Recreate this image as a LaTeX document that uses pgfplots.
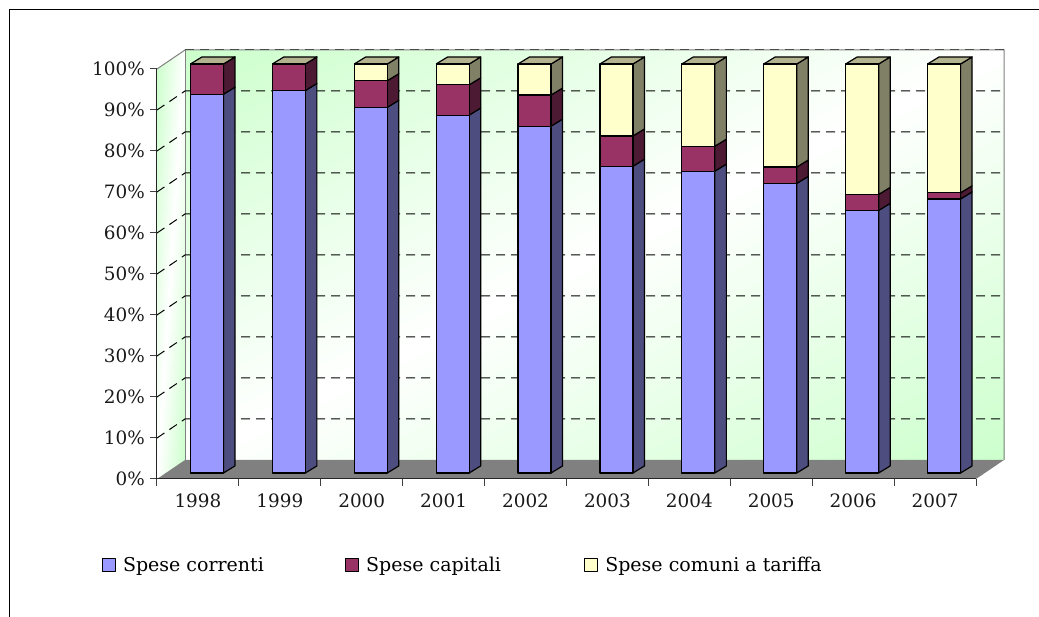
\documentclass[border=0pt]{standalone}
\usepackage{fontspec}
\setmainfont{DejaVu Serif}
\usepackage{pgfplots}
\usepackage{pgfplotstable}
\pgfplotsset{compat=1.18}

\definecolor{wallgreen}{HTML}{CCFFCC}
\definecolor{floorgray}{HTML}{808080}
\definecolor{corr}{HTML}{9999FF}
\definecolor{capi}{HTML}{993366}
\definecolor{tari}{HTML}{FFFFCC}
\definecolor{corrside}{HTML}{4D4D80}
\definecolor{capiside}{HTML}{4D1A33}
\definecolor{tariside}{HTML}{808066}
\definecolor{bartop}{HTML}{B3B38F}

% pos = bar centre in category units
\pgfplotstableread{
pos  cor   cap  tar
0.5  92.6  7.4  0
1.5  93.5  6.5  0
2.5  89.4  6.5  4.1
3.5  87.5  7.4  5.1
4.5  84.8  7.6  7.6
5.5  75.0  7.4  17.6
6.5  73.8  6.1  20.1
7.5  70.8  4.0  25.2
8.5  64.2  3.9  31.9
9.5  67.0  1.5  31.5
}\barstab

\pgfplotsset{
  lbl/.style={font=\fontsize{18.4}{20}\selectfont},
  barbox/.style={
    at={(9pt,6pt)}, anchor=south west,
    scale only axis, width=819pt, height=409pt,
    xmin=0, xmax=10, ymin=0, ymax=100,
    clip=false, hide axis},
  edge/.style={draw=black, line width=1.2pt, line join=round},
  sq/.style={legend image code/.code={
    \draw[##1,line width=1.3pt] (0pt,-6.5pt) rectangle (13pt,6.5pt);}},
}

% side and top faces of one bar, from its row in the table
\newcommand\barsides[1]{%
  \pgfplotstablegetelem{#1}{cor}\of\barstab\pgfmathsetmacro\ya{\pgfplotsretval}%
  \pgfplotstablegetelem{#1}{cap}\of\barstab\pgfmathsetmacro\yb{\ya+\pgfplotsretval}%
  \pgfmathsetmacro\xl{#1+0.5-0.2015}%
  \pgfmathsetmacro\xr{#1+0.5+0.2015}%
  \pgfmathsetmacro\xld{\xl+0.1405}%
  \pgfmathsetmacro\xrd{\xr+0.1405}%
  \pgfmathsetmacro\yad{\ya+1.72}%
  \pgfmathsetmacro\ybd{\yb+1.72}%
  \addplot[edge, fill=corrside] coordinates {(\xr,0) (\xrd,1.72) (\xrd,\yad) (\xr,\ya) (\xr,0)};
  \addplot[edge, fill=capiside] coordinates {(\xr,\ya) (\xrd,\yad) (\xrd,\ybd) (\xr,\yb) (\xr,\ya)};
  \addplot[edge, fill=tariside] coordinates {(\xr,\yb) (\xrd,\ybd) (\xrd,101.72) (\xr,100) (\xr,\yb)};
  \addplot[edge, fill=bartop] coordinates {(\xl,100) (\xld,101.72) (\xrd,101.72) (\xr,100) (\xl,100)};
}

\begin{document}
\begin{tikzpicture}
\useasboundingbox (-157pt,-138pt) rectangle (882pt,479pt);
\draw[black, line width=1pt] (-147pt,-138pt) -- (-147pt,469.5pt) -- (882pt,469.5pt);

% walls, floor, gridlines and the two scales
\begin{axis}[
  at={(0pt,0pt)}, anchor=south west,
  scale only axis, width=819pt, height=410pt,
  xmin=0, xmax=10, ymin=0, ymax=100,
  clip=false,
  axis x line*=bottom, axis y line*=left,
  axis line style={-, line width=1pt, black!85},
  tick style={line width=1pt, black!75},
  tick align=outside, major tick length=7pt,
  xtick={0,1,...,10},
  xticklabels={1998,1999,2000,2001,2002,2003,2004,2005,2006,2007},
  x tick label as interval=true,
  ytick={0,10,...,100},
  yticklabels={0\%,10\%,20\%,30\%,40\%,50\%,60\%,70\%,80\%,90\%,100\%},
  tick label style={lbl, black!90},
  xticklabel style={inner sep=0pt, yshift=-8pt},
  yticklabel style={inner sep=0pt, xshift=-5pt},
  colormap={wall}{color(0)=(white) color(1)=(wallgreen)},
  point meta min=0, point meta max=1,
  axis on top,
]
% back wall
\addplot[patch, shader=interp, point meta=explicit] coordinates {
  (0.342,104.634) [1] (10.342,104.634) [0] (0.342,4.634) [0]
  (10.342,4.634) [1] (10.342,104.634) [0] (0.342,4.634) [0]
};
% side wall
\addplot[patch, shader=interp, point meta=explicit] coordinates {
  (0,100) [1] (0.342,104.634) [0] (0,0) [0]
  (0.342,4.634) [1] (0.342,104.634) [0] (0,0) [0]
};
% wall edges
\addplot[floorgray, line width=1pt] coordinates {(0,100) (0.342,104.634) (10.342,104.634) (10.342,4.634)};
\addplot[floorgray, line width=1pt] coordinates {(0.342,104.634) (0.342,4.634)};
% floor
\addplot[fill=floorgray, draw=none] coordinates {(0,0) (10,0) (10.342,4.634) (0.342,4.634) (0,0)};
% gridlines
\pgfplotsinvokeforeach{10,20,...,90}{
  \addplot[black, line width=1pt, dash pattern=on 9pt off 6pt]
    coordinates {(0,#1) (0.342,#1+4.634) (10.342,#1+4.634)};
}
\addplot[black!70, line width=1pt, dash pattern=on 9pt off 6pt]
  coordinates {(0.342,104.634) (10.342,104.634)};
\end{axis}

% side and top faces of the bars
\begin{axis}[barbox]
\pgfplotsinvokeforeach{0,...,9}{\barsides{#1}}
\end{axis}

% front faces of the bars and the legend
\begin{axis}[barbox,
  ybar stacked, bar width=33pt,
  legend columns=3,
  legend cell align=left,
  legend style={
    at={(-0.0787,-0.2250)}, anchor=west,
    draw=none, fill=none, inner sep=0pt,
    font=\fontsize{19}{21}\selectfont,
    /tikz/column 1/.style={column sep=5pt},
    /tikz/column 2/.style={column sep=79pt},
    /tikz/column 3/.style={column sep=5pt},
    /tikz/column 4/.style={column sep=81pt},
    /tikz/column 5/.style={column sep=5pt},
  },
]
\addplot[edge, fill=corr, sq] table[x=pos, y=cor] {\barstab};
\addplot[edge, fill=capi, sq] table[x=pos, y=cap] {\barstab};
\addplot[edge, fill=tari, sq] table[x=pos, y=tar] {\barstab};
\legend{Spese correnti, Spese capitali, Spese comuni a tariffa}
\end{axis}
\end{tikzpicture}
\end{document}
